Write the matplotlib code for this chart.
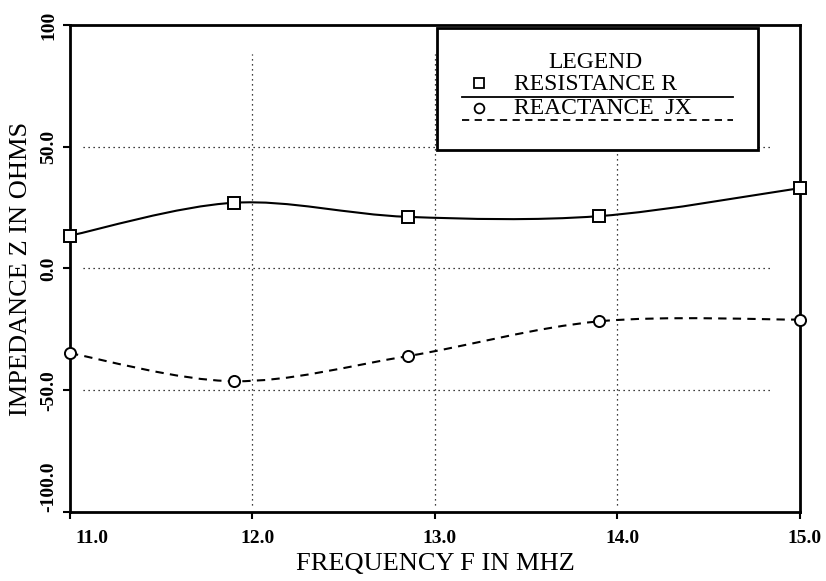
import matplotlib
matplotlib.use("Agg")
import matplotlib.pyplot as plt
import matplotlib.transforms as mtransforms
import numpy as np
from matplotlib.path import Path
from matplotlib.patches import PathPatch, Rectangle
from matplotlib.lines import Line2D

freq = [11.0, 11.9, 12.85, 13.9, 15.0]
resistance = [13.5, 27.0, 21.2, 21.5, 33.0]
reactance = [-34.8, -46.3, -36.0, -21.7, -21.0]

x_ticks = [11.0, 12.0, 13.0, 14.0, 15.0]
y_ticks = [-100, -50, 0, 50, 100]
y_tick_labels = ["-100.0", "-50.0", "0.0", "50.0", "100"]

plt.rcParams['font.family'] = ['Liberation Serif', 'DejaVu Serif']


def smooth_path(xs, ys):
    # catmull-rom through the points, drawn as cubic bezier segments
    pts = np.column_stack([xs, ys])
    verts = [pts[0]]
    codes = [Path.MOVETO]
    n = len(pts)
    for i in range(n - 1):
        p0 = pts[max(i - 1, 0)]
        p1 = pts[i]
        p2 = pts[i + 1]
        p3 = pts[min(i + 2, n - 1)]
        c1 = p1 + (p2 - p0) / 6.0
        c2 = p2 - (p3 - p1) / 6.0
        verts += [c1, c2, p2]
        codes += [Path.CURVE4] * 3
    return Path(verts, codes)


fig = plt.figure(figsize=(8.26, 5.81), dpi=100)
ax = fig.add_axes([0.0847, 0.1188, 0.8838, 0.8382])

# grid, partial dotted lines like the original plot
for xv in [12.0, 13.0, 14.0]:
    ax.plot([xv, xv], [-97, 88], color='black', lw=0.9, ls=(0, (1, 3)), zorder=1)
for yv in [50, 0, -50]:
    ax.plot([11.07, 14.85], [yv, yv], color='black', lw=0.9, ls=(0, (1, 3)), zorder=1)

ax.add_patch(PathPatch(smooth_path(freq, resistance), fill=False,
                       edgecolor='black', lw=1.5, zorder=3))
ax.add_patch(PathPatch(smooth_path(freq, reactance), fill=False,
                       edgecolor='black', lw=1.5, ls=(0, (4, 3)), zorder=3))
ax.plot(freq, resistance, ls='none', marker='s', ms=8, mfc='white',
        mec='black', mew=1.4, zorder=4, clip_on=False)
ax.plot(freq, reactance, ls='none', marker='o', ms=8, mfc='white',
        mec='black', mew=1.4, zorder=4, clip_on=False)

ax.set_xlim(11.0, 15.0)
ax.set_ylim(-100, 100)
ax.set_xticks(x_ticks)
ax.set_xticklabels([f"{v:.1f}" for v in x_ticks], fontsize=14, fontweight='bold')
ax.set_yticks(y_ticks)
ax.set_yticklabels(y_tick_labels, fontsize=14, fontweight='bold',
                   rotation=90, va='center')
ax.tick_params(direction='out', length=5, width=1.5)
ax.tick_params(axis='x', pad=8)
ax.tick_params(axis='y', pad=4)
for s in ax.spines.values():
    s.set_linewidth(2.0)

# nudge tick labels the way the old plotter placed them
shift = mtransforms.ScaledTranslation(5 / 100, 0, fig.dpi_scale_trans)
for lbl in ax.get_xticklabels():
    lbl.set_transform(lbl.get_transform() + shift)
ax.get_xticklabels()[0].set_ha('left')
ax.get_yticklabels()[0].set_va('bottom')

ax.set_xlabel("FREQUENCY F IN MHZ", fontsize=19, labelpad=4)
ax.set_ylabel("IMPEDANCE Z IN OHMS", fontsize=19, labelpad=6)

# legend box drawn by hand in axes coords
tr = ax.transAxes
ax.add_patch(Rectangle((0.503, 0.743), 0.44, 0.251, transform=tr,
                       facecolor='white', edgecolor='black', lw=2.0, zorder=5))
ax.text(0.72, 0.922, "LEGEND", transform=tr, ha='center', va='center',
        fontsize=17, zorder=6)
ax.plot([0.56], [0.88], transform=tr, marker='s', ms=7, mfc='white',
        mec='black', mew=1.3, zorder=6)
ax.text(0.608, 0.877, "RESISTANCE R", transform=tr, ha='left', va='center',
        fontsize=17, zorder=6)
ax.add_line(Line2D([0.537, 0.908], [0.852, 0.852], transform=tr,
                   color='black', lw=1.3, zorder=6))
ax.plot([0.56], [0.83], transform=tr, marker='o', ms=7, mfc='white',
        mec='black', mew=1.3, zorder=6)
ax.text(0.608, 0.828, "REACTANCE  JX", transform=tr, ha='left', va='center',
        fontsize=17, zorder=6)
ax.add_line(Line2D([0.537, 0.908], [0.805, 0.805], transform=tr,
                   color='black', lw=1.3, ls=(0, (4, 3)), zorder=6))

fig.savefig("out.png", dpi=100)
